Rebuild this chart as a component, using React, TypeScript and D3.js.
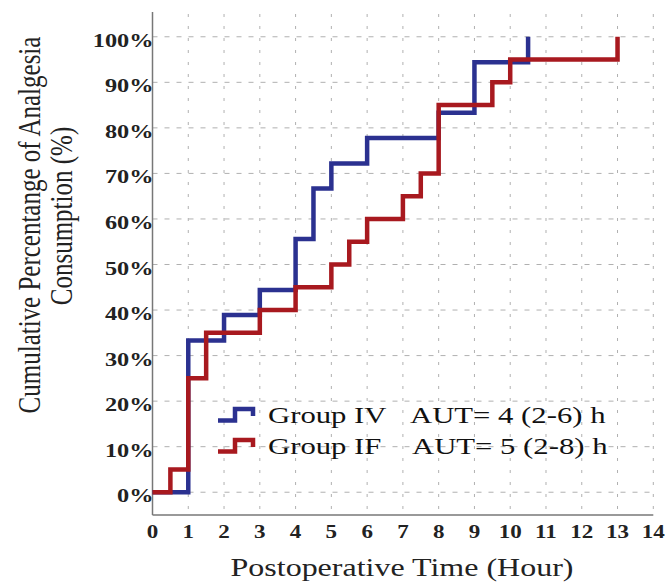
import React from 'react';
import { scaleLinear, line, curveStepAfter, range } from 'd3';

const width = 667;
const height = 583;

// Group IV (blue) - step times (hours) and cumulative %
const ivTimes = [0, 1, 2, 3, 4, 4.5, 5, 6, 8, 9, 10.5];
const ivValues = [0, 33.3, 38.9, 44.4, 55.6, 66.7, 72.2, 77.8, 83.3, 94.4, 100];

// Group IF (red)
const ifTimes = [0, 0.5, 1, 1.5, 3, 4, 5, 5.5, 6, 7, 7.5, 8, 9.5, 10, 13];
const ifValues = [0, 5, 25, 35, 40, 45, 50, 55, 60, 65, 70, 85, 90, 95, 100];

const xTicks = range(0, 15);
const yTicks = range(0, 101, 10);
const yTickLabels = yTicks.map(d => `${d}%`);

const legendNames = ['Group IV', 'Group IF'];
const legendNotes = ['AUT= 4 (2-6) h', 'AUT= 5 (2-8) h'];

const blue = '#2b3190';
const red = '#a8191f';
const font = '"Liberation Serif", "Times New Roman", serif';
const sx = 1.28; // picture is stretched sideways

const App = () => {
  const xScale = scaleLinear().domain([0, 14]).range([152.5, 653.3]);
  const yScale = scaleLinear().domain([-5, 105]).range([515, 14]);

  const step = line<[number, number]>()
    .x(d => xScale(d[0]))
    .y(d => yScale(d[1]))
    .curve(curveStepAfter);

  const ivData = ivTimes.map((t, i) => [t, ivValues[i]] as [number, number]);
  const ifData = ifTimes.map((t, i) => [t, ifValues[i]] as [number, number]);

  const [x0, x1] = xScale.range();
  const [yBottom, yTop] = yScale.range();

  const legendRows = [
    { name: legendNames[0], note: legendNotes[0], color: blue, y: 423, noteX: 410 },
    { name: legendNames[1], note: legendNotes[1], color: red, y: 454, noteX: 412 },
  ];

  return (
    <svg
      width={width}
      height={height}
      style={{ position: 'absolute', left: 0, top: 0, background: '#fff' }}
    >
      {/* grid */}
      {yTicks.map(t => (
        <line
          key={'h' + t}
          x1={x0}
          x2={x1}
          y1={yScale(t)}
          y2={yScale(t)}
          stroke="#b0b0b0"
          strokeWidth={1}
          strokeDasharray="5,7"
        />
      ))}
      {xTicks.filter(t => t > 0).map(t => (
        <line
          key={'v' + t}
          x1={xScale(t)}
          x2={xScale(t)}
          y1={yTop}
          y2={yBottom}
          stroke="#b0b0b0"
          strokeWidth={1}
          strokeDasharray="3,9"
        />
      ))}

      {/* axes */}
      <line x1={x0} x2={x0} y1={yTop - 2} y2={yBottom} stroke="#777" strokeWidth={1.5} />
      <line x1={x0} x2={x1} y1={yBottom} y2={yBottom} stroke="#777" strokeWidth={1.5} />

      {/* step curves */}
      <path d={step(ivData) || ''} fill="none" stroke={blue} strokeWidth={4.5} />
      <path d={step(ifData) || ''} fill="none" stroke={red} strokeWidth={4.5} />

      {/* y tick labels */}
      {yTicks.map((t, i) => (
        <text
          key={'yl' + t}
          transform={`translate(${x0 + 1}, ${yScale(t) + 10}) scale(${sx},1)`}
          textAnchor="end"
          fontFamily={font}
          fontWeight="bold"
          fontSize={19}
          fill="#222"
        >
          {yTickLabels[i]}
        </text>
      ))}

      {/* x tick labels */}
      {xTicks.map(t => (
        <text
          key={'xl' + t}
          transform={`translate(${xScale(t)}, 538) scale(${sx},1)`}
          textAnchor="middle"
          fontFamily={font}
          fontWeight="bold"
          fontSize={18}
          fill="#222"
        >
          {t}
        </text>
      ))}

      {/* axis titles */}
      <text
        transform={`translate(402, 576) scale(${sx},1)`}
        textAnchor="middle"
        fontFamily={font}
        fontSize={25}
        fill="#222"
      >
        Postoperative Time (Hour)
      </text>
      <text
        transform={`translate(40, 225) scale(${sx},1) rotate(-90)`}
        textAnchor="middle"
        fontFamily={font}
        fontSize={25}
        fill="#222"
      >
        Cumulative Percentange of Analgesia
      </text>
      <text
        transform={`translate(72, 216) scale(${sx},1) rotate(-90)`}
        textAnchor="middle"
        fontFamily={font}
        fontSize={25}
        fill="#222"
      >
        Consumption (%)
      </text>

      {/* legend */}
      {legendRows.map(r => (
        <g key={r.name}>
          <path
            d={`M218,${r.y - 2.5} H235 V${r.y - 14} H253 V${r.y - 7}`}
            fill="none"
            stroke={r.color}
            strokeWidth={4.5}
          />
          <text
            transform={`translate(268, ${r.y}) scale(${sx},1)`}
            fontFamily={font}
            fontSize={24}
            fill="#111"
          >
            {r.name}
          </text>
          <text
            transform={`translate(${r.noteX}, ${r.y}) scale(${sx},1)`}
            fontFamily={font}
            fontSize={24}
            fill="#111"
          >
            {r.note}
          </text>
        </g>
      ))}
    </svg>
  );
};

export default App;
